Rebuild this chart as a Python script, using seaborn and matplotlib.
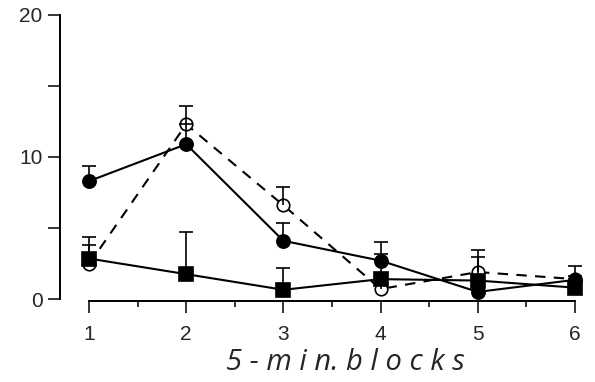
import numpy as np
import pandas as pd
import matplotlib
matplotlib.use("Agg")
import matplotlib.pyplot as plt
import seaborn as sns

# 5-minute blocks and group means with standard errors
blocks = [1, 2, 3, 4, 5, 6]

filled_mean = [8.3, 10.9, 4.1, 2.7, 0.5, 1.35]
filled_sem = [1.1, 1.4, 1.25, 1.3, 0.4, 0.95]

open_mean = [2.45, 12.3, 6.6, 0.7, 1.9, 1.4]
open_sem = [1.95, 1.3, 1.3, 0.5, 1.55, 0.2]

square_mean = [2.85, 1.75, 0.65, 1.4, 1.3, 0.8]
square_sem = [0.95, 2.95, 1.55, 1.8, 1.65, 0.3]

y_ticks = [0, 10, 20]
y_minor = [5, 15]
x_label = "5 - m i n. b l o c k s"

sns.set_style("ticks")
plt.rcParams["font.family"] = ["Liberation Sans", "DejaVu Sans"]

fig = plt.figure(figsize=(5.95, 3.82), dpi=100)
ax = fig.add_axes([60 / 595, 81 / 382, 530 / 595, 291 / 382])

df = pd.DataFrame({
    "block": blocks * 3,
    "value": open_mean + filled_mean + square_mean,
    "group": ["open"] * 6 + ["filled"] * 6 + ["square"] * 6,
})

# drawn in this order: open circles, then filled circles, then squares on top
styles = {
    "open": dict(marker="o", ls=(0, (5, 4)), markersize=9, mfc="white", mec="black"),
    "filled": dict(marker="o", ls="-", markersize=9.5, mfc="black", mec="black"),
    "square": dict(marker="s", ls="-", markersize=10.5, mfc="black", mec="black"),
}

for grp, st in styles.items():
    sub = df[df["group"] == grp]
    sns.lineplot(data=sub, x="block", y="value", ax=ax, color="black",
                 lw=1.5, marker=st["marker"], linestyle=st["ls"],
                 markersize=st["markersize"], markerfacecolor=st["mfc"],
                 markeredgecolor=st["mec"], markeredgewidth=1.2,
                 clip_on=False, zorder=2, legend=False, errorbar=None)

# upward-only error bars with a cap at the top
for mean, sem in [(open_mean, open_sem), (filled_mean, filled_sem),
                  (square_mean, square_sem)]:
    mean = np.array(mean)
    sem = np.array(sem)
    ax.errorbar(blocks, mean, yerr=[np.zeros_like(sem), sem], fmt="none",
                ecolor="black", elinewidth=1.2, capsize=0, zorder=3,
                clip_on=False)
    ax.plot(blocks, mean + sem, ls="none", marker="_", color="black",
            markersize=9.4, markeredgewidth=1.2, zorder=3, clip_on=False)

ax.set_xlim(1 - 29 / 97.2, 6 + 15 / 97.2)
ax.set_ylim(-0.14, 20.35)

ax.set_yticks(y_ticks)
ax.set_yticks(y_minor, minor=True)
ax.set_xticks(blocks)
ax.set_xticks(np.arange(1.5, 6, 1.0), minor=True)

ax.tick_params(axis="y", which="both", direction="out", length=8.5, width=1.3,
               labelsize=15, pad=4)
ax.tick_params(axis="x", which="major", direction="out", length=8.5, width=1.3,
               labelsize=15, pad=9)
ax.tick_params(axis="x", which="minor", direction="out", length=4.3, width=1.3)

sns.despine(ax=ax)
ax.spines["left"].set_bounds(0, 20)
ax.spines["bottom"].set_bounds(1, 6)
for side in ("left", "bottom"):
    ax.spines[side].set_linewidth(1.4)
    ax.spines[side].set_color("black")

ax.set_xlabel("")
ax.set_ylabel("")
fig.text(345 / 595, 1 - 362 / 382, x_label, ha="center", va="center",
         fontsize=21, style="italic", family=["Open Sans", "DejaVu Sans"])

fig.savefig("out.png", dpi=100, facecolor="white")
